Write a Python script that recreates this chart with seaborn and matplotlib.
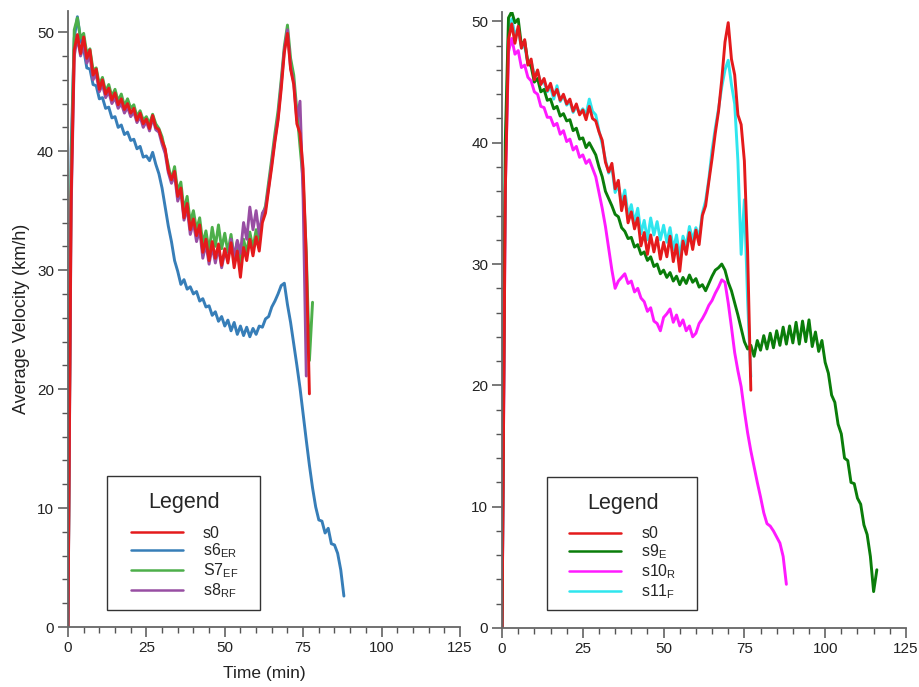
import numpy as np
import pandas as pd
import matplotlib
matplotlib.use("Agg")
import matplotlib.pyplot as plt
import seaborn as sns
from matplotlib.ticker import MultipleLocator
from matplotlib.patches import Rectangle

sns.set_theme(style="white")
plt.rcParams['font.family'] = ['Liberation Sans', 'DejaVu Sans']
plt.rcParams['mathtext.default'] = 'regular'

# ---------------- data (time in min, velocity in km/h) ----------------
s0 = [0, 36, 48.5, 49.8, 48.2, 49.6, 47.8, 48.5, 46.4, 46.9,
      45.2, 46.0, 44.8, 45.3, 44.3, 44.9, 43.9, 44.4, 43.5, 44.0,
      43.2, 43.6, 42.6, 43.2, 42.3, 42.7, 41.9, 43.0, 42.0, 41.8,
      40.9, 40.2, 38.4, 37.6, 38.3, 36.2, 36.9, 34.4, 35.6, 33.4,
      34.3, 32.9, 33.8, 31.5, 32.6, 30.8, 32.4, 31.0, 32.2, 30.4,
      31.8, 30.6, 32.3, 30.2, 31.6, 29.4, 31.9, 30.8, 32.6, 31.2,
      32.8, 31.6, 34.0, 34.8, 36.8, 38.7, 40.8, 42.6, 45.2, 48.3,
      49.9, 46.9, 45.6, 42.3, 41.5, 38.5, 31.0, 19.6]

s6 = [0, 40, 49.5, 51.3, 49.4, 48.6, 47.0, 46.9, 45.6, 45.5,
      44.4, 44.5, 43.6, 43.7, 42.8, 42.9, 42.0, 42.2, 41.4, 41.6,
      40.9, 41.0, 40.2, 40.4, 39.5, 39.6, 39.2, 39.9, 38.9, 38.1,
      36.9, 35.3, 33.7, 32.4, 30.8, 29.9, 28.8, 29.2, 28.4, 28.6,
      28.0, 28.2, 27.4, 27.6, 26.9, 27.0, 26.2, 26.5, 25.7, 26.1,
      25.3, 25.8, 24.9, 25.6, 24.6, 25.3, 24.5, 25.2, 24.4, 25.1,
      24.6, 25.3, 25.2, 25.9, 26.1, 26.9, 27.4, 28.0, 28.7, 28.9,
      27.1, 25.6, 23.8, 22.0, 20.1, 17.9, 15.7, 13.6, 11.7, 10.1,
      9.0, 8.9, 7.9, 8.3, 7.0, 6.9, 6.2, 4.8, 2.6]

s7 = [0, 38, 50.2, 51.2, 49.5, 49.9, 48.2, 48.6, 46.8, 47.0,
      45.6, 46.2, 45.0, 45.6, 44.6, 45.2, 44.2, 44.8, 43.8, 44.4,
      43.6, 43.9, 42.9, 43.4, 42.6, 42.9, 42.3, 43.1, 42.3, 41.9,
      41.2, 40.0, 38.8, 37.6, 38.7, 36.6, 37.4, 35.0, 36.2, 34.0,
      35.0, 33.4, 34.4, 32.2, 33.3, 31.6, 33.6, 32.0, 33.8, 31.8,
      33.1, 31.5, 33.0, 31.0, 32.4, 30.4, 32.6, 31.4, 33.2, 31.8,
      33.4, 32.3, 34.6, 35.4, 37.4, 39.4, 41.5, 43.4, 46.0, 48.8,
      50.6, 47.8, 46.4, 43.4, 40.4, 37.5, 31.5, 22.4, 27.3]

s8 = [0, 35, 48.0, 49.6, 48.0, 48.9, 47.4, 48.0, 46.0, 46.5,
      45.0, 45.6, 44.5, 45.0, 44.0, 44.5, 43.6, 44.0, 43.2, 43.7,
      42.9, 43.3, 42.4, 42.9, 42.0, 42.5, 41.7, 42.8, 41.8, 41.6,
      40.6, 39.8, 38.2, 37.3, 38.0, 35.8, 36.6, 34.2, 35.2, 33.0,
      34.0, 32.4, 33.4, 31.0, 32.2, 30.5, 32.0, 30.6, 31.9, 30.2,
      31.5, 30.9, 32.6, 31.1, 32.5, 31.4, 34.0, 32.6, 35.3, 33.4,
      35.0, 33.0, 34.8, 35.2, 37.0, 39.0, 41.0, 42.8, 45.6, 48.5,
      50.2, 47.0, 45.8, 42.6, 44.2, 36.0, 21.1]

s9 = [0, 40, 50.3, 50.8, 49.9, 50.2, 48.0, 48.4, 46.6, 46.3,
      45.0, 45.3, 44.2, 44.4, 43.5, 43.6, 42.8, 43.0, 42.2, 42.4,
      41.8, 41.9, 41.0, 41.2, 40.3, 40.4, 39.6, 40.0, 39.5, 39.0,
      38.0, 37.2, 36.0, 35.4, 34.8, 34.1, 33.9, 33.0, 32.7, 32.1,
      32.2, 31.4, 31.6, 30.8, 31.0, 30.3, 30.6, 29.8, 30.0, 29.2,
      29.5, 28.9, 29.3, 28.6, 29.0, 28.3, 28.9, 28.4, 29.1, 28.5,
      28.8, 28.1, 28.3, 27.8, 28.4, 29.0, 29.5, 29.7, 30.0, 29.5,
      28.5, 27.8, 26.8, 25.8, 24.7, 23.6, 23.0, 23.3, 22.4, 23.7,
      22.9, 24.1, 23.0, 24.3, 23.1, 24.5, 23.3, 24.8, 23.4, 24.9,
      23.5, 25.2, 23.4, 25.3, 23.6, 25.4, 23.2, 24.4, 22.8, 23.7,
      21.9, 21.0, 19.2, 18.6, 16.8, 16.0, 14.0, 13.8, 12.0, 11.9,
      10.7, 10.2, 8.5, 7.7, 5.9, 3.0, 4.8]

s10 = [0, 36, 47.5, 48.6, 47.3, 47.6, 46.2, 46.4, 45.4, 45.1,
       44.2, 44.0, 43.0, 42.9, 42.1, 42.1, 41.4, 41.6, 40.7, 41.0,
       40.1, 40.3, 39.4, 39.7, 38.8, 39.0, 38.3, 38.6, 37.9, 37.2,
       35.9, 34.6, 33.1, 31.3, 29.5, 28.0, 28.6, 28.9, 29.2, 28.4,
       28.6, 27.7, 28.0, 27.2, 26.9, 26.1, 26.4, 25.3, 25.1, 24.5,
       25.6, 25.9, 26.3, 25.2, 25.8, 24.9, 25.4, 24.5, 24.9, 24.0,
       24.3, 25.1, 25.5, 26.0, 26.6, 27.0, 27.6, 28.1, 28.7, 28.5,
       26.8, 24.8, 22.7, 21.2, 19.9, 17.9, 16.1, 14.6, 13.3, 12.0,
       10.8, 9.5, 8.6, 8.4, 8.0, 7.5, 7.0, 5.9, 3.6]

s11 = [0, 38, 48.8, 50.2, 48.9, 49.4, 47.8, 48.0, 46.5, 46.7,
       45.6, 45.9, 44.9, 45.0, 44.2, 44.6, 43.6, 44.7, 43.4, 43.9,
       43.1, 43.4, 42.5, 43.0, 42.4, 42.8, 42.3, 43.6, 42.6, 42.3,
       41.0, 39.9, 38.6, 37.5, 38.0, 35.9, 36.5, 35.0, 36.1, 34.0,
       34.9, 33.4, 34.6, 32.5, 33.6, 32.0, 33.8, 32.4, 33.5, 32.0,
       33.2, 31.8, 33.0, 31.2, 32.4, 30.6, 32.3, 31.5, 33.1, 32.0,
       33.0, 32.2, 34.2, 35.2, 37.0, 39.4, 41.2, 42.8, 44.6, 46.0,
       46.8, 44.8, 43.2, 38.5, 30.8, 35.3, 27.0, 20.7]

left_series = [("s6", s6, "#377eb8"), ("S7", s7, "#4daf4a"),
               ("s8", s8, "#984ea3"), ("s0", s0, "#e41a1c")]
left_labels = {"s0": r"s0", "s6": r"s6$_{ER}$", "S7": r"S7$_{EF}$", "s8": r"s8$_{RF}$"}
left_order = ["s0", "s6", "S7", "s8"]

right_series = [("s11", s11, "#2fe6ee"), ("s10", s10, "#ff1aff"),
                ("s9", s9, "#0a7d0a"), ("s0", s0, "#e41a1c")]
right_labels = {"s0": r"s0", "s9": r"s9$_{E}$", "s10": r"s10$_{R}$", "s11": r"s11$_{F}$"}
right_order = ["s0", "s9", "s10", "s11"]

x_ticks = [0, 25, 50, 75, 100, 125]
y_ticks = [0, 10, 20, 30, 40, 50]

W, H = 920, 687
fig = plt.figure(figsize=(9.2, 6.87), dpi=100)
ax1 = fig.add_axes([0.0739, 0.0873, 0.426, 0.897])
ax2 = fig.add_axes([0.5457, 0.0859, 0.439, 0.897])


def draw(ax, series, labels, order, ytop, box_px):
    handles = {}
    for name, vals, col in series:
        t = np.arange(len(vals))
        sns.lineplot(x=t, y=vals, ax=ax, color=col, linewidth=2.1,
                     estimator=None, sort=False)
        handles[name] = ax.lines[-1]
    ax.set_xlim(0, 125)
    ax.set_ylim(0, ytop)
    ax.set_xticks(x_ticks)
    ax.set_yticks(y_ticks)
    ax.xaxis.set_minor_locator(MultipleLocator(5))
    ax.yaxis.set_minor_locator(MultipleLocator(2))
    ax.tick_params(which='major', direction='out', length=7, width=1.1,
                   color='#555555', labelsize=11, labelcolor='#222222',
                   bottom=True, left=True, pad=3)
    ax.tick_params(which='minor', direction='out', length=4, width=1.0,
                   color='#555555', bottom=True, left=True)
    for s in ['top', 'right']:
        ax.spines[s].set_visible(False)
    for s in ['left', 'bottom']:
        ax.spines[s].set_color('#666666')
        ax.spines[s].set_linewidth(1.3)
    ax.set_xlabel("")
    ax.set_ylabel("")
    hs = [plt.Line2D([], [], color=handles[n].get_color(), linewidth=1.8)
          for n in order]
    x0, y0, x1, y1 = box_px
    # legend frame
    fig.patches.append(Rectangle((x0 / W, 1 - y1 / H), (x1 - x0) / W, (y1 - y0) / H,
                                 transform=fig.transFigure, fill=False,
                                 edgecolor='#333333', linewidth=1.0, zorder=5))
    cx = (x0 + x1) / 2 + 1
    leg = ax.legend(hs, [labels[n] for n in order], title="Legend",
                    loc='upper center', bbox_to_anchor=(cx / W, 1 - (y0 + 16) / H),
                    bbox_transform=fig.transFigure,
                    frameon=False, fontsize=11.5,
                    title_fontsize=15.5, handlelength=3.25, handletextpad=1.25,
                    labelspacing=0.07, borderpad=0.0, borderaxespad=0.0)
    leg._legend_box.align = "center"
    leg._legend_box.sep = 9
    return leg


draw(ax1, left_series, left_labels, left_order, 51.8, (107, 476, 260, 610))
draw(ax2, right_series, right_labels, right_order, 50.8, (547, 477, 697, 610))

ax1.set_xlabel("Time (min)", fontsize=12.5, color='#222222', labelpad=8)
ax1.set_ylabel("Average Velocity (km/h)", fontsize=13, color='#222222', labelpad=5)

fig.savefig("out.png", dpi=100, facecolor='white')
